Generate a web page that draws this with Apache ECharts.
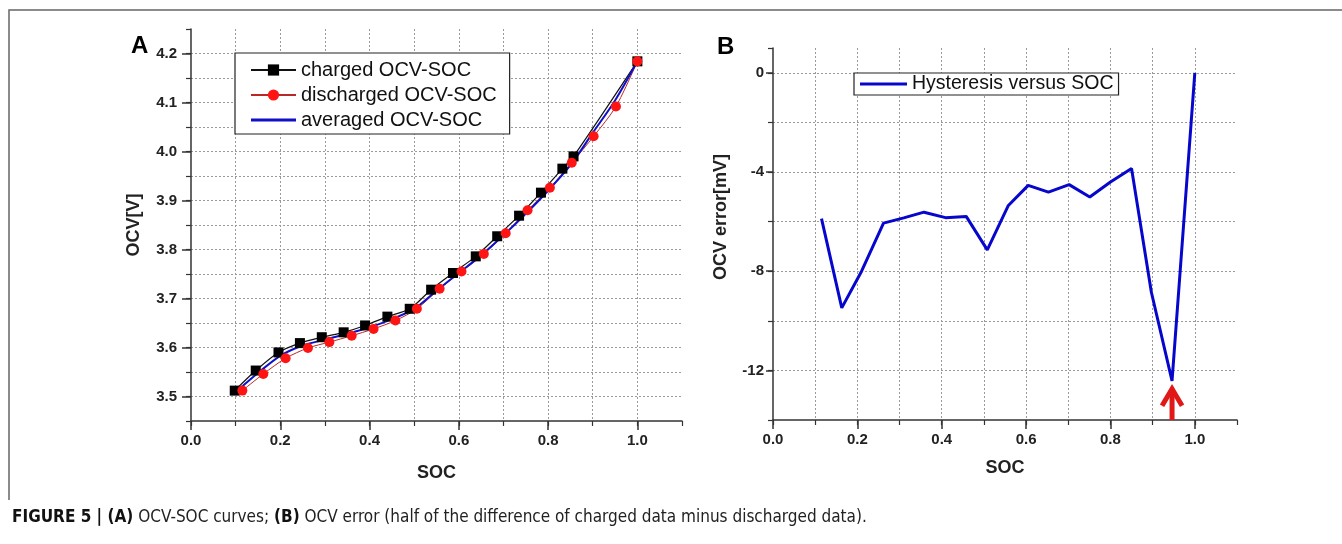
<!DOCTYPE html>
<html>
<head>
<meta charset="utf-8">
<script src="https://cdn.jsdelivr.net/npm/echarts@6/dist/echarts.min.js"></script>
<style>html,body{margin:0;padding:0;background:#fff;}#c{width:1342px;height:544px;}</style>
</head>
<body>
<div id="c"></div>
<script>
// ---- Panel A data ----
const chargedSOC = [0.098, 0.145, 0.196, 0.244, 0.293, 0.342, 0.390, 0.440, 0.490, 0.538, 0.587, 0.638, 0.686, 0.735, 0.784, 0.832, 0.857, 1.0];
const chargedOCV = [3.512, 3.553, 3.590, 3.609, 3.621, 3.631, 3.645, 3.663, 3.679, 3.718, 3.752, 3.786, 3.827, 3.869, 3.916, 3.965, 3.990, 4.184];
const dischargedSOC = [0.115, 0.162, 0.212, 0.262, 0.310, 0.360, 0.409, 0.458, 0.506, 0.557, 0.606, 0.656, 0.705, 0.754, 0.804, 0.853, 0.902, 0.952, 1.0];
const dischargedOCV = [3.512, 3.546, 3.578, 3.599, 3.611, 3.624, 3.638, 3.655, 3.679, 3.720, 3.755, 3.791, 3.833, 3.880, 3.926, 3.977, 4.031, 4.092, 4.184];
const averagedSOC = [0.105, 0.15, 0.2, 0.25, 0.3, 0.35, 0.4, 0.45, 0.5, 0.55, 0.6, 0.65, 0.7, 0.75, 0.8, 0.85, 0.9, 0.95, 1.0];
const averagedOCV = [3.513, 3.548, 3.583, 3.604, 3.616, 3.628, 3.641, 3.658, 3.679, 3.716, 3.752, 3.788, 3.829, 3.873, 3.920, 3.972, 4.038, 4.104, 4.184];
// ---- Panel B data ----
const hystSOC = [0.115, 0.163, 0.21, 0.262, 0.31, 0.358, 0.409, 0.458, 0.508, 0.558, 0.605, 0.653, 0.702, 0.751, 0.8, 0.85, 0.897, 0.946, 1.0];
const hystErr = [-5.88, -9.48, -8.0, -6.06, -5.85, -5.62, -5.84, -5.79, -7.14, -5.35, -4.54, -4.81, -4.51, -5.01, -4.40, -3.86, -8.85, -12.42, 0];
// ---- tick labels ----
const socTicks = [0, 0.2, 0.4, 0.6, 0.8, 1.0];
const ocvTicks = [3.5, 3.6, 3.7, 3.8, 3.9, 4.0, 4.1, 4.2];
const errTicks = [-12, -8, -4, 0];
const names = ['charged OCV-SOC', 'discharged OCV-SOC', 'averaged OCV-SOC', 'Hysteresis versus SOC'];

const Y_L_MIN = 3.45, Y_L_MAX = 4.25, Y_R_MIN = -14, Y_R_MAX = 1;
const FONT = '"Liberation Sans", Arial, sans-serif';
const NARROW = '"Liberation Sans Narrow", "Arial Narrow", "DejaVu Sans Condensed", sans-serif';
const AX = '#333';
const GRIDC = '#9a9a9a';
const LINE_ICON = 'path://M0,0 L48,0 L48,3 L0,3 Z';

function zip(a, b) { return a.map((v, i) => [v, b[i]]); }

const gridLine = { show: true, showMinLine: false, showMaxLine: false, lineStyle: { color: GRIDC, type: [2, 2], width: 1 } };

function mainX(gi, nameGap) {
  return {
    type: 'value', gridIndex: gi, min: 0, max: 1.1, interval: 0.2, position: 'bottom',
    name: 'SOC', nameLocation: 'middle', nameGap: nameGap,
    nameTextStyle: { fontFamily: FONT, fontWeight: 'bold', fontSize: 18, color: '#222' },
    axisLine: { show: true, onZero: false, lineStyle: { color: AX, width: 1.5 } },
    axisTick: { show: true, customValues: socTicks, length: 9, lineStyle: { color: AX, width: 1.5 } },
    axisLabel: { customValues: socTicks, formatter: v => v.toFixed(1), fontFamily: FONT, fontWeight: 'bold', fontSize: 15, color: '#222', margin: 12 },
    splitLine: { show: false }
  };
}
function minorX(gi) {
  return {
    type: 'value', gridIndex: gi, min: 0, max: 1.1, interval: 0.1, position: 'bottom', offset: 0,
    axisLine: { show: false, onZero: false },
    axisTick: { show: true, length: 5, lineStyle: { color: AX, width: 1.2 } },
    axisLabel: { show: false },
    splitLine: gridLine
  };
}

const option = {
  animation: false,
  backgroundColor: '#fff',
  title: [
    { text: 'A', left: 126, top: 29, textStyle: { fontFamily: FONT, fontWeight: 'bold', fontSize: 24, color: '#000' } },
    { text: 'B', left: 712, top: 30, textStyle: { fontFamily: FONT, fontWeight: 'bold', fontSize: 24, color: '#000' } }
  ],
  grid: [
    { left: 191, top: 29, width: 491, height: 392 },
    { left: 773, top: 48, width: 464, height: 372 }
  ],
  legend: [
    {
      orient: 'vertical', left: 235, top: 53,
      data: [{ name: names[0] }, { name: names[1] }, { name: names[2], icon: LINE_ICON }],
      padding: [7, 13, 4, 15], itemGap: 5, itemWidth: 45, itemHeight: 14,
      borderColor: '#222', borderWidth: 1.2, backgroundColor: '#fff',
      textStyle: { fontFamily: FONT, fontSize: 20, color: '#111' }, selectedMode: false
    },
    {
      orient: 'horizontal', left: 854, top: 73, data: [{ name: names[3], icon: LINE_ICON }],
      padding: [1, 5, 1, 6], itemWidth: 47, itemHeight: 14,
      borderColor: '#222', borderWidth: 1.2, backgroundColor: '#fff',
      textStyle: { fontFamily: FONT, fontSize: 19.5, color: '#111' }, selectedMode: false
    }
  ],
  xAxis: [mainX(0, 43), minorX(0), mainX(1, 39), minorX(1)],
  yAxis: [
    {
      type: 'value', gridIndex: 0, min: Y_L_MIN, max: Y_L_MAX, interval: 0.05, position: 'left',
      name: 'OCV[V]', nameLocation: 'middle', nameGap: 48,
      nameTextStyle: { fontFamily: FONT, fontWeight: 'bold', fontSize: 18, color: '#222' },
      axisLine: { show: true, onZero: false, lineStyle: { color: AX, width: 1.5 } },
      axisTick: { show: true, customValues: ocvTicks, length: 9, lineStyle: { color: AX, width: 1.5 } },
      axisLabel: { customValues: ocvTicks, formatter: v => v.toFixed(1), fontFamily: FONT, fontWeight: 'bold', fontSize: 15, color: '#222', margin: 14 },
      splitLine: { show: false }
    },
    {
      type: 'value', gridIndex: 0, min: Y_L_MIN, max: Y_L_MAX, interval: 0.05, position: 'left', offset: 0,
      axisLine: { show: false, onZero: false },
      axisTick: { show: true, length: 5, lineStyle: { color: AX, width: 1.2 } },
      axisLabel: { show: false },
      splitLine: gridLine
    },
    {
      type: 'value', gridIndex: 1, min: Y_R_MIN, max: Y_R_MAX, interval: 2, position: 'left',
      name: 'OCV error[mV]', nameLocation: 'middle', nameGap: 43,
      nameTextStyle: { fontFamily: FONT, fontWeight: 'bold', fontSize: 18, color: '#222', padding: [0, 0, 0, 34] },
      axisLine: { show: true, onZero: false, lineStyle: { color: AX, width: 1.5 } },
      axisTick: { show: true, customValues: errTicks, length: 7, lineStyle: { color: AX, width: 1.5 } },
      axisLabel: { customValues: errTicks, formatter: v => String(v), fontFamily: FONT, fontWeight: 'bold', fontSize: 15, color: '#222', margin: 9 },
      splitLine: { show: false }
    },
    {
      type: 'value', gridIndex: 1, min: Y_R_MIN, max: Y_R_MAX, interval: 2, position: 'left', offset: 0,
      axisLine: { show: false, onZero: false },
      axisTick: { show: true, length: 5, lineStyle: { color: AX, width: 1.2 } },
      axisLabel: { show: false },
      splitLine: gridLine
    }
  ],
  series: [
    {
      name: names[0], type: 'line', xAxisIndex: 0, yAxisIndex: 0, data: zip(chargedSOC, chargedOCV),
      smooth: 0.3, symbol: 'rect', symbolSize: 10,
      lineStyle: { color: '#111', width: 1.2 }, itemStyle: { color: '#000' }
    },
    {
      name: names[1], type: 'line', xAxisIndex: 0, yAxisIndex: 0, data: zip(dischargedSOC, dischargedOCV),
      smooth: 0.3, symbol: 'circle', symbolSize: 10,
      lineStyle: { color: '#b82828', width: 1 }, itemStyle: { color: '#ff1414' }
    },
    {
      name: names[2], type: 'line', xAxisIndex: 0, yAxisIndex: 0, data: zip(averagedSOC, averagedOCV),
      smooth: 0.3, symbol: 'none',
      lineStyle: { color: '#1010c8', width: 2 }, itemStyle: { color: '#1010c8' }
    },
    {
      name: names[3], type: 'line', xAxisIndex: 2, yAxisIndex: 2, data: zip(hystSOC, hystErr),
      symbol: 'none',
      lineStyle: { color: '#0606cc', width: 3 }, itemStyle: { color: '#0606cc' }
    },
    {
      type: 'custom', xAxisIndex: 2, yAxisIndex: 2, silent: true, z: 5,
      data: (function () {
        let k = 0;
        hystErr.forEach((v, i) => { if (v < hystErr[k]) k = i; });
        return [[hystSOC[k], hystErr[k]]];
      })(),
      renderItem: function (params, api) {
        const tip = api.coord([api.value(0), api.value(1)]);
        const base = api.coord([api.value(0), Y_R_MIN]);
        const tx = tip[0], ty = tip[1] + 6;
        const col = '#e01818';
        return {
          type: 'group', children: [
            { type: 'line', shape: { x1: tx, y1: ty + 2, x2: base[0], y2: base[1] }, style: { stroke: col, lineWidth: 5 } },
            { type: 'polyline', shape: { points: [[tx - 10, ty + 19], [tx, ty + 2], [tx + 10, ty + 19]] }, style: { stroke: col, lineWidth: 5, fill: null, lineJoin: 'miter' } }
          ]
        };
      }
    }
  ],
  graphic: [
    { type: 'polyline', silent: true, shape: { points: [[9, 500], [9, 10], [1342, 10]] }, style: { stroke: '#666', lineWidth: 1.5, fill: null } },
    {
      type: 'text', left: 12, top: 509, silent: true,
      style: {
        text: '{b|FIGURE 5 | (A)} OCV-SOC curves; {b|(B)} OCV error (half of the difference of charged data minus discharged data).',
        font: '17px ' + NARROW,
        fill: '#222',
        rich: {
          b: { fontFamily: NARROW, fontWeight: 'bold', fontSize: 17, fill: '#111' }
        }
      }
    }
  ]
};

const chart = echarts.init(document.getElementById('c'), null, { renderer: 'canvas' });
chart.setOption(option);
</script>
</body>
</html>
